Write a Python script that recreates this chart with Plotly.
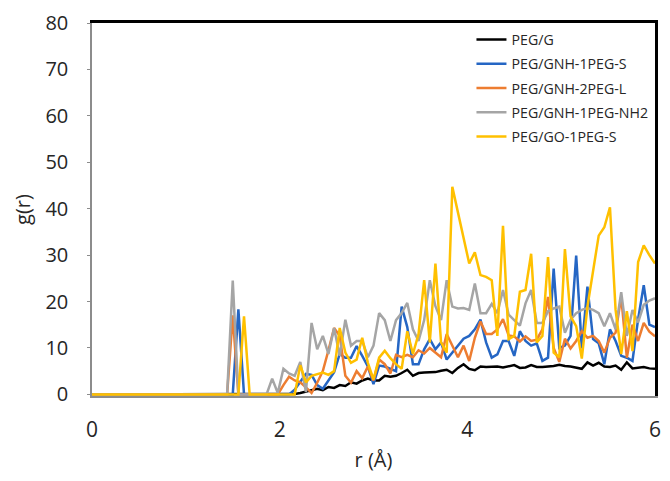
import plotly.graph_objects as go

# r grid (Å), step 0.06
r = [round(0.06 * i, 2) for i in range(101)]

peg_g = [
    0, 0, 0, 0, 0, 0, 0, 0, 0, 0,
    0, 0, 0, 0, 0, 0, 0, 0, 0, 0,
    0, 0, 0, 0, 0, 0, 0, 0, 0, 0,
    0, 0, 0, 0, 0, 0, 0.1, 0.3, 0.6, 1.0,
    1.2, 0.9, 1.6, 1.4, 2.0, 1.8, 2.6, 2.3, 3.0, 3.4,
    3.0, 3.0, 4.0, 3.8, 4.0, 4.6, 5.3, 4.0, 4.6, 4.7,
    4.7, 4.8, 5.1, 5.3, 4.6, 5.7, 6.5, 5.5, 5.2, 6.0,
    5.9, 6.0, 6.0, 5.8, 6.0, 6.3, 5.7, 5.8, 6.3, 5.9,
    5.9, 6.0, 6.1, 6.4, 6.1, 6.0, 5.8, 5.5, 6.9, 6.2,
    6.8, 6.0, 5.9, 6.2, 5.3, 6.9, 5.6, 5.8, 5.9, 5.6,
    5.5,
]

peg_gnh_1peg_s = [
    0, 0, 0, 0, 0, 0, 0, 0, 0, 0,
    0, 0, 0, 0, 0, 0, 0, 0, 0, 0,
    0, 0, 0, 0, 0, 0, 18.3, 0, 0, 0,
    0, 0, 0, 0, 0, 0, 1.0, 2.6, 4.4, 4.2,
    2.0, 1.2, 3.0, 4.8, 8.7, 7.9, 7.9, 10.4, 8.3, 6.0,
    2.2, 6.2, 6.0, 5.5, 5.0, 18.9, 14.5, 6.5, 6.5, 9.7,
    11.9, 9.7, 11.2, 7.5, 9.0, 10.4, 12.0, 12.6, 14.0, 16.1,
    11.2, 7.9, 8.6, 11.5, 11.5, 8.3, 13.6, 11.5, 10.5, 11.0,
    7.2, 7.9, 27.1, 10.0, 10.5, 12.6, 29.9, 9.9, 23.2, 11.9,
    11.0, 6.5, 14.0, 11.5, 8.3, 7.9, 7.2, 16.2, 23.5, 15.0,
    14.5,
]

peg_gnh_2peg_l = [
    0, 0, 0, 0, 0, 0, 0, 0, 0, 0,
    0, 0, 0, 0, 0, 0, 0, 0, 0, 0,
    0, 0, 0, 0, 0, 17.0, 0, 0, 0, 0,
    0, 0, 0, 0, 2.0, 3.8, 3.0, 2.6, 1.5, 0.3,
    2.5, 5.0, 9.5, 14.3, 12.6, 4.0, 2.5, 5.0, 3.5, 6.0,
    3.0, 7.5, 6.5, 4.5, 8.5, 8.0, 8.5, 8.0, 9.5, 8.8,
    10.0, 9.0, 8.0, 13.0, 10.5, 8.0, 10.5, 7.2, 12.2, 15.7,
    13.0, 13.0, 14.0, 16.2, 12.7, 12.5, 11.4, 12.5, 11.5, 11.8,
    14.0, 21.0, 10.0, 7.0, 12.0, 9.9, 11.5, 13.6, 12.2, 12.6,
    11.5, 9.0, 12.2, 13.3, 21.0, 7.9, 15.0, 11.5, 15.4, 13.5,
    12.5,
]

peg_gnh_1peg_nh2 = [
    0, 0, 0, 0, 0, 0, 0, 0, 0, 0,
    0, 0, 0, 0, 0, 0, 0, 0, 0, 0,
    0, 0, 0, 0, 0, 24.5, 0, 0, 0, 0,
    0, 0, 3.4, 0.3, 5.5, 4.5, 4.0, 7.0, 0.5, 15.4,
    9.7, 12.6, 8.7, 14.3, 8.3, 16.1, 10.5, 11.5, 11.5, 8.0,
    10.5, 17.5, 16.0, 11.5, 16.0, 17.5, 19.7, 14.0, 11.5, 16.0,
    24.6, 19.0, 16.0, 24.6, 18.9, 18.5, 18.6, 18.2, 23.9, 17.5,
    17.5, 19.5, 17.5, 22.5, 17.2, 16.1, 14.8, 19.6, 22.5, 15.4,
    15.4, 17.9, 18.5, 18.9, 13.3, 16.1, 17.5, 18.2, 18.6, 18.2,
    17.5, 14.7, 17.5, 14.0, 22.0, 12.6, 18.2, 15.5, 19.3, 20.2,
    20.7,
]

peg_go_1peg_s = [
    0, 0, 0, 0, 0, 0, 0, 0, 0, 0,
    0, 0, 0, 0, 0, 0, 0, 0, 0, 0,
    0, 0, 0, 0, 0, 0, 0, 16.8, 0, 0,
    0, 0, 0, 0, 0, 0, 0, 6.3, 2.6, 4.0,
    4.3, 4.7, 4.2, 5.0, 14.3, 9.0, 6.8, 7.5, 12.2, 6.8,
    3.2, 7.9, 9.4, 7.8, 6.5, 5.5, 13.6, 8.7, 13.0, 24.6,
    11.2, 28.2, 11.2, 9.0, 44.7, 39.2, 33.7, 28.2, 30.6, 25.7,
    25.3, 24.6, 12.6, 36.3, 11.9, 12.6, 22.1, 22.5, 30.3, 11.2,
    12.6, 29.6, 9.0, 8.0, 31.3, 16.8, 14.7, 7.7, 18.9, 26.4,
    34.2, 36.0, 40.3, 18.2, 8.7, 17.9, 9.3, 28.5, 32.1, 30.0,
    28.2,
]

series_names = ["PEG/G", "PEG/GNH-1PEG-S", "PEG/GNH-2PEG-L",
                "PEG/GNH-1PEG-NH2", "PEG/GO-1PEG-S"]
series_values = [peg_g, peg_gnh_1peg_s, peg_gnh_2peg_l,
                 peg_gnh_1peg_nh2, peg_go_1peg_s]
series_colors = ["#000000", "#2566C4", "#ED7D31", "#A5A5A5", "#FFC000"]

x_ticks = [0, 2, 4, 6]
y_ticks = [0, 10, 20, 30, 40, 50, 60, 70, 80]

FONT = "Open Sans, Noto Sans, DejaVu Sans, sans-serif"

fig = go.Figure()
for name, vals, col in zip(series_names, series_values, series_colors):
    fig.add_trace(go.Scatter(
        x=r, y=vals, mode="lines", name=name, legendgroup=name,
        line=dict(color=col, width=2.5),
    ))

# page body has an 8px margin: size the figure so the page does not overflow
fig.update_layout(
    width=654, height=465,
    margin=dict(l=84, r=7, t=15, b=77, autoexpand=False),
    paper_bgcolor="white", plot_bgcolor="white",
    font=dict(family=FONT, color="#262626"),
    showlegend=True,
    legend=dict(
        x=0.674, y=0.998, xanchor="left", yanchor="top",
        bgcolor="rgba(0,0,0,0)", font=dict(size=14.2, color="#262626"),
        tracegroupgap=2.8,
    ),
    xaxis=dict(
        range=[0, 6], tickvals=x_ticks, ticktext=[str(v) for v in x_ticks],
        automargin=False,
        showgrid=False, zeroline=False, showline=True,
        linecolor="#8c8c8c", linewidth=1.5, ticks="",
        tickfont=dict(size=21), ticklabelstandoff=14,
        ticklabeloverflow="allow",
        title=dict(text="r (Å)", font=dict(size=20), standoff=20),
    ),
    # secondary axes only draw the black frame on the top and right sides
    xaxis2=dict(
        overlaying="x", side="top", range=[0, 6], matches=None,
        automargin=False, showline=True, linecolor="black", linewidth=2.5,
        showgrid=False, zeroline=False, ticks="", showticklabels=False,
    ),
    yaxis=dict(
        range=[-0.35, 80], tickvals=y_ticks, ticktext=[str(v) for v in y_ticks],
        automargin=False,
        showgrid=False, zeroline=False, showline=True,
        linecolor="#8c8c8c", linewidth=1.5, ticks="outside", ticklen=3,
        tickcolor="#8c8c8c",
        tickfont=dict(size=20), ticklabelstandoff=15,
        ticklabeloverflow="allow",
        title=dict(text="g(r)", font=dict(size=20), standoff=9),
    ),
    yaxis2=dict(
        overlaying="y", side="right", range=[-0.35, 80],
        automargin=False, showline=True, linecolor="black", linewidth=2.5,
        showgrid=False, zeroline=False, ticks="", showticklabels=False,
    ),
)

# an invisible, hover-free trace anchors the frame axes so they are drawn
fig.add_trace(go.Scatter(
    x=[r[0]], y=[peg_g[0]], xaxis="x2", yaxis="y2", mode="lines",
    showlegend=False, hoverinfo="skip", line=dict(width=0),
))

fig.write_html("out.html")
